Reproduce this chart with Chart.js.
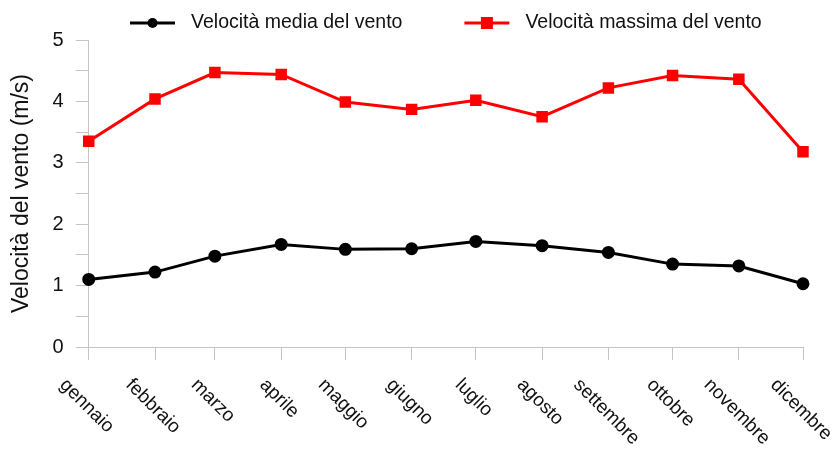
<!DOCTYPE html>
<html>
<head>
<meta charset="utf-8">
<script src="https://cdn.jsdelivr.net/npm/chart.js@4.4.1/dist/chart.umd.min.js"></script>
<style>
html,body{margin:0;padding:0;background:#fff;}
</style>
</head>
<body>
<canvas id="myChart" width="835" height="451"></canvas>
<script>
// dati: velocità del vento per mese
var months = ['gennaio','febbraio','marzo','aprile','maggio','giugno','luglio','agosto','settembre','ottobre','novembre','dicembre'];
var daysInMonth = [31,28,31,30,31,30,31,31,30,31,30,31];
var avgWind = [1.10,1.22,1.48,1.67,1.59,1.60,1.72,1.65,1.54,1.35,1.32,1.03];
var maxWind = [3.35,4.04,4.47,4.44,3.99,3.87,4.02,3.75,4.22,4.42,4.36,3.18];
var yTickLabels = [0,1,2,3,4,5];

var FONT = '"Liberation Sans", Arial, sans-serif';
var TEXT = '#111111';
var AXIS = '#c4c4c4';

//day of year for the first of each month (x axis is time-like)
var monthStart = [];
var day = 0;
for (var i = 0; i < daysInMonth.length; i++) {
  monthStart.push(day);
  day += daysInMonth[i];
}

function toPoints(values){
  return values.map(function(v, i){ return {x: monthStart[i], y: v}; });
}

//legend with line + marker, drawn above the plot
var lineLegend = {
  id: 'lineLegend',
  afterDraw: function(chart){
    var ctx = chart.ctx;
    var lineW = 45, gapText = 16, gapItem = 62;
    ctx.save();
    ctx.font = '19.5px ' + FONT;
    var total = 0;
    chart.data.datasets.forEach(function(ds, i){
      total += lineW + gapText + ctx.measureText(ds.label).width;
      if (i) total += gapItem;
    });
    var x = (chart.chartArea.left + chart.chartArea.right) / 2 - total / 2;
    var y = 23;
    chart.data.datasets.forEach(function(ds){
      ctx.strokeStyle = ds.borderColor;
      ctx.fillStyle = ds.borderColor;
      ctx.lineWidth = 3;
      ctx.beginPath();
      ctx.moveTo(x, y);
      ctx.lineTo(x + lineW, y);
      ctx.stroke();
      if (ds.pointStyle === 'rect') {
        ctx.fillRect(x + lineW / 2 - 6, y - 6, 12, 12);
      } else {
        ctx.beginPath();
        ctx.arc(x + lineW / 2, y, 5, 0, Math.PI * 2);
        ctx.fill();
      }
      ctx.fillStyle = TEXT;
      ctx.textAlign = 'left';
      ctx.textBaseline = 'middle';
      ctx.fillText(ds.label, x + lineW + gapText, y);
      x += lineW + gapText + ctx.measureText(ds.label).width + gapItem;
    });
    ctx.restore();
  }
};

//month labels turned 45 degrees clockwise
var slantLabels = {
  id: 'slantLabels',
  afterDraw: function(chart){
    var ctx = chart.ctx;
    var xs = chart.scales.x;
    var size = 19;
    ctx.save();
    ctx.font = size + 'px ' + FONT;
    ctx.fillStyle = TEXT;
    ctx.textAlign = 'center';
    ctx.textBaseline = 'middle';
    var top = xs.bottom + 16;
    months.forEach(function(m, i){
      var px = xs.getPixelForValue(monthStart[i]);
      var w = ctx.measureText(m).width;
      var h = size * 0.9;
      var cy = top + (w + h) * Math.SQRT1_2 / 2;
      ctx.save();
      ctx.translate(px - 2, cy);
      ctx.rotate(Math.PI / 4);
      ctx.fillText(m, 0, 0);
      ctx.restore();
    });
    ctx.restore();
  }
};

var ctx = document.getElementById('myChart');
var chart = new Chart(ctx, {
  type: 'line',
  data: {
    datasets: [{
      label: 'Velocità media del vento',
      data: toPoints(avgWind),
      borderColor: '#000000',
      backgroundColor: '#000000',
      borderWidth: 3,
      pointStyle: 'circle',
      pointRadius: 5,
      pointHoverRadius: 5,
      tension: 0,
      clip: false
    },
    {
      label: 'Velocità massima del vento',
      data: toPoints(maxWind),
      borderColor: '#ff0000',
      backgroundColor: '#ff0000',
      borderWidth: 3,
      pointStyle: 'rect',
      pointRadius: 6,
      pointHoverRadius: 6,
      tension: 0,
      clip: false
    }]
  },
  options: {
    responsive: false,
    animation: false,
    layout: {padding: {top: 40, right: 32, bottom: 91, left: 8}},
    plugins: {
      legend: {display: false},
      tooltip: {enabled: false}
    },
    scales: {
      x: {
        type: 'linear',
        min: monthStart[0],
        max: monthStart[monthStart.length - 1],
        afterBuildTicks: function(scale){
          scale.ticks = monthStart.map(function(v){ return {value: v}; });
        },
        ticks: {display: false},
        grid: {display: true, drawOnChartArea: false, drawTicks: true, tickLength: 13, color: AXIS, lineWidth: 1},
        border: {display: true, color: AXIS, width: 1}
      },
      y: {
        min: 0,
        max: 5,
        afterBuildTicks: function(scale){
          var t = [];
          for (var v = 0; v <= 5; v += 0.5) t.push({value: v});
          scale.ticks = t;
        },
        ticks: {
          font: {family: FONT, size: 20},
          color: TEXT,
          padding: 12,
          callback: function(v){ return yTickLabels.indexOf(v) >= 0 ? String(v) : ''; }
        },
        grid: {display: true, drawOnChartArea: false, drawTicks: true, tickLength: 13, color: AXIS, lineWidth: 1},
        border: {display: true, color: AXIS, width: 1},
        title: {
          display: true,
          text: 'Velocità del vento (m/s)',
          font: {family: FONT, size: 23},
          color: TEXT,
          padding: {top: 0, bottom: 5}
        }
      }
    }
  },
  plugins: [lineLegend, slantLabels]
});
</script>
</body>
</html>
